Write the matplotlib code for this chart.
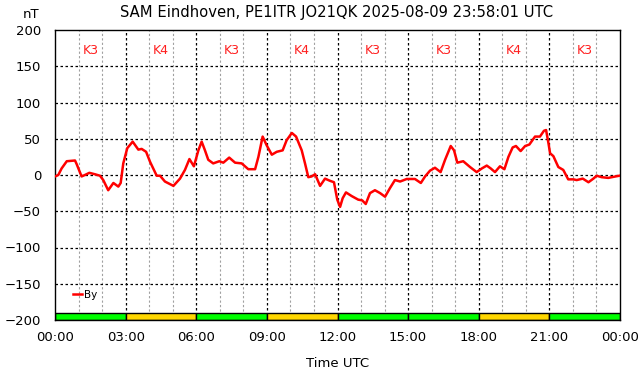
import numpy as np
import matplotlib
matplotlib.use('Agg')
import matplotlib.pyplot as plt

# By component, hours UTC vs nT
hours = [0.00, 0.14, 0.28, 0.50, 0.85, 0.92, 1.13, 1.27, 1.46, 1.70, 1.91, 2.05, 2.26,
         2.48, 2.69, 2.79, 2.90, 3.07, 3.30, 3.54, 3.68, 3.87, 4.04, 4.32, 4.46, 4.67,
         5.03, 5.31, 5.52, 5.71, 5.90, 6.09, 6.23, 6.37, 6.51, 6.72, 6.98, 7.15, 7.40,
         7.65, 7.93, 8.21, 8.50, 8.64, 8.82, 8.99, 9.21, 9.42, 9.67, 9.84, 10.06, 10.24,
         10.48, 10.62, 10.76, 10.90, 11.05, 11.26, 11.47, 11.68, 11.85, 11.99, 12.11,
         12.22, 12.36, 12.60, 12.88, 13.05, 13.20, 13.38, 13.59, 13.81, 14.02, 14.23,
         14.44, 14.66, 14.94, 15.29, 15.54, 15.72, 15.93, 16.14, 16.38, 16.57, 16.81,
         16.95, 17.09, 17.34, 17.63, 17.91, 18.13, 18.34, 18.51, 18.69, 18.90, 19.09,
         19.26, 19.44, 19.58, 19.78, 19.97, 20.15, 20.39, 20.60, 20.77, 20.86, 20.96,
         21.03, 21.17, 21.38, 21.59, 21.80, 22.02, 22.16, 22.42, 22.66, 22.87, 23.01,
         23.22, 23.50, 23.65, 23.97]
by_nT = [-2, 0, 9, 19, 20, 15, -2, 0, 3, 1, -1, -7, -21,
         -11, -16, -11, 16, 37, 46, 35, 36, 32, 18, -1, -1, -9,
         -15, -5, 7, 22, 12, 34, 46, 34, 21, 16, 19, 17, 24,
         17, 16, 8, 8, 25, 53, 41, 28, 32, 34, 48, 58, 53,
         34, 16, -3, -2, 1, -15, -5, -8, -10, -34, -44,
         -32, -24, -29, -34, -35, -40, -25, -21, -25, -30, -18,
         -7, -9, -5.5, -5.5, -11, -2, 6, 10, 4, 21, 40,
         34, 17, 19, 11, 4, 9, 13, 9, 4, 12, 8,
         25, 38, 40, 33, 40, 42, 53, 53, 61, 62, 44,
         30, 26, 11, 7, -6, -6, -7, -5, -10, -5, -1,
         -3, -4, -3, -1]

# K index per 3 hour block
k_index = [3, 4, 3, 4, 3, 3, 4, 3]
k_colors = {3: '#00ff00', 4: '#ffd700'}

tick_hours = list(range(0, 25, 3))
tick_labels = ['00:00', '03:00', '06:00', '09:00', '12:00', '15:00', '18:00', '21:00', '00:00']

fig = plt.figure(figsize=(6.42, 3.76), dpi=100)
ax = fig.add_axes([55/642, 56/376, 565/642, 290/376])

ax.set_xlim(0, 24)
ax.set_ylim(-200, 200)

# grid: hours in grey, 3h and 50 nT in black
for h in range(1, 24):
    if h % 3 != 0:
        ax.axvline(h, color='#a0a0a0', lw=0.8, ls=(0, (2, 2)), zorder=0)
for h in range(3, 24, 3):
    ax.axvline(h, color='black', lw=0.9, ls=(0, (2, 2)), zorder=0)
for v in range(-150, 200, 50):
    ax.axhline(v, color='black', lw=0.9, ls=(0, (2, 2)), zorder=0)

# K index bars and labels
for i, k in enumerate(k_index):
    ax.bar(i*3, 10, width=3, bottom=-200, align='edge', color=k_colors[k],
           edgecolor='black', lw=1.0, zorder=1)
    ax.text(i*3 + 1.5, 172, 'K%d' % k, color='#ff2020', ha='center', va='center', fontsize=9)

ax.plot(hours, by_nT, color='red', lw=1.8, label='By', zorder=3)

ax.set_xticks(tick_hours)
ax.set_xticklabels(tick_labels)
ax.set_yticks(range(-200, 201, 50))
ax.tick_params(labelsize=9.5, length=0)
ax.tick_params(axis='x', pad=8)
ax.tick_params(axis='y', pad=10)
for s in ax.spines.values():
    s.set_linewidth(1.0)

ax.set_xlabel('Time UTC', fontsize=9.5, labelpad=9)
fig.text(31/642, 1 - 15/376, 'nT', fontsize=9.5, ha='center', va='center')
fig.text(337/642, 1 - 12/376, 'SAM Eindhoven, PE1ITR JO21QK 2025-08-09 23:58:01 UTC',
         fontsize=10.6, ha='center', va='center')

ax.legend(loc='lower left', bbox_to_anchor=(0.025, 0.055), frameon=False, fontsize=7.5,
          handlelength=0.8, handletextpad=0.2, borderaxespad=0)

fig.savefig('out.png', dpi=100)
